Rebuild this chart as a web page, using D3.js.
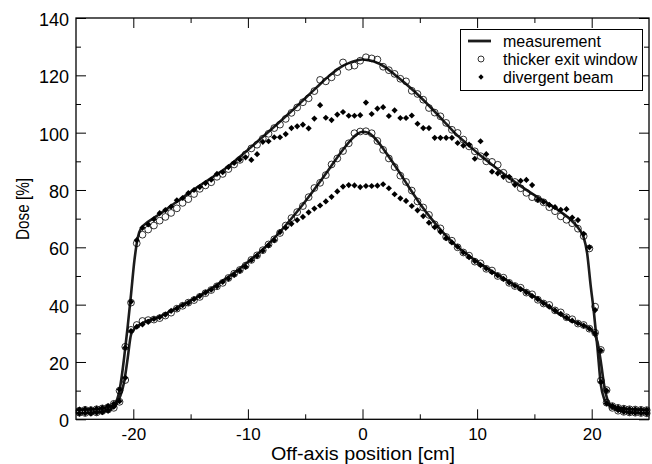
<!DOCTYPE html>
<html>
<head>
<meta charset="utf-8">
<script src="https://cdn.jsdelivr.net/npm/d3@7"></script>
<style>
  html, body { margin: 0; padding: 0; background: #fff; }
  svg { display: block; }
  text { font-family: "Liberation Sans", Arial, Helvetica, sans-serif; fill: #000; }
</style>
</head>
<body>
<svg id="chart" width="652" height="464"></svg>
<script>
// ---------------- DATA ----------------
const xMajorTicks = [-20, -10, 0, 10, 20];
const xMinorTicks = [-15, -5, 5, 15];
const yMajorTicks = [0, 20, 40, 60, 80, 100, 120, 140];
const yMinorTicks = [10, 30, 50, 70, 90, 110, 130];

const seriesNames = ["measurement", "thicker exit window", "divergent beam"];

// measurement curves (x in cm)
const measX = [-25,-24,-23,-22.5,-22,-21.7,-21.4,-21.1,-20.8,-20.5,-20.2,-19.9,-19.6,-19.3,
  -19,-18,-17,-16,-15,-14,-13,-12,-11,-10,-9,-8,-7,-6,-5,-4,-3,-2,-1,
  -0.5,0,0.5,
  1,2,3,4,5,6,7,8,9,10,11,12,13,14,15,16,17,18,19,
  19.3,19.6,19.9,20.2,20.5,20.8,21.1,21.4,21.7,
  22,22.5,23,24,25];
const measUpper = [3.3,3.4,3.6,3.9,4.4,5.1,7.0,12.5,21.5,32.0,43.5,55.5,63.5,66.8,
  68.0,70.8,73.6,76.5,79.4,82.1,84.7,87.4,90.6,94.0,97.5,101.0,104.6,108.2,112.0,115.8,119.5,122.6,124.6,
  125.2,125.5,125.3,
  124.8,122.8,119.6,116.3,112.6,108.6,104.4,100.1,96.5,93.0,89.8,86.6,83.6,80.8,78.2,75.8,73.2,70.2,65.8,
  63.5,58.0,47.0,37.0,25.0,12.0,7.0,5.2,4.5,
  4.1,3.8,3.6,3.4,3.3];
const measLower = [2.2,2.3,2.6,3.0,3.5,4.2,5.8,8.5,13.0,21.0,29.5,31.6,32.6,33.3,
  34.0,35.3,37.2,39.3,41.4,43.6,46.1,48.9,51.7,54.9,58.2,62.0,66.3,71.0,76.0,81.3,86.8,92.5,97.5,
  99.4,100.3,100.0,
  98.4,93.3,87.5,81.3,75.3,70.0,65.3,61.2,57.9,55.0,52.4,49.9,47.5,45.2,42.8,40.1,37.2,34.8,33.2,
  32.7,32.2,31.5,30.0,27.0,20.0,11.5,6.5,4.6,
  3.6,3.0,2.6,2.3,2.2];

// simulated points (x in cm)
const pointX = [
  -24.7,-24.2,-23.7,-23.2,-22.7,-22.2,-21.7,-21.2,-20.7,-20.2,
  -19.7,-19.2,-18.7,-18.2,-17.7,-17.2,-16.7,-16.2,-15.7,-15.2,
  -14.7,-14.2,-13.7,-13.2,-12.7,-12.2,-11.7,-11.2,-10.7,-10.2,
  -9.7,-9.2,-8.7,-8.2,-7.7,-7.2,-6.7,-6.2,-5.7,-5.2,
  -4.7,-4.2,-3.7,-3.2,-2.7,-2.2,-1.7,-1.2,-0.7,-0.2,
  0.3,0.8,1.3,1.8,2.3,2.8,3.3,3.8,4.3,4.8,
  5.3,5.8,6.3,6.8,7.3,7.8,8.3,8.8,9.3,9.8,
  10.3,10.8,11.3,11.8,12.3,12.8,13.3,13.8,14.3,14.8,
  15.3,15.8,16.3,16.8,17.3,17.8,18.3,18.8,19.3,19.8,
  20.3,20.8,21.3,21.8,22.3,22.8,23.3,23.8,24.3,24.8];

const exitUpper = [
  3.0,3.3,3.2,3.5,3.8,4.2,5.4,10.0,25.3,40.7,
  61.4,64.4,66.2,67.6,69.3,70.6,72.0,73.6,75.5,76.8,
  78.6,80.4,81.6,82.7,84.6,85.6,87.3,88.9,90.5,92.4,
  94.5,95.8,97.9,99.6,101.6,102.8,104.8,106.9,108.8,110.6,
  112.0,114.5,118.4,117.9,119.3,121.1,124.5,123.0,123.4,125.1,
  126.3,125.9,125.5,123.0,121.8,120.5,118.8,117.9,114.6,113.5,
  111.5,108.6,107.0,105.7,103.4,101.0,99.9,97.6,95.2,93.5,
  91.8,90.0,89.8,88.8,86.0,83.8,82.8,80.6,79.0,77.5,
  76.9,75.7,74.0,72.6,70.8,69.6,68.4,66.5,63.9,59.6,
  39.3,13.5,5.8,4.6,4.0,3.7,3.5,3.4,3.3,3.2];
const exitLower = [
  2.3,2.2,2.5,2.4,2.9,3.4,4.0,6.1,13.7,31.2,
  32.9,34.3,34.6,34.8,35.3,36.2,37.2,38.6,39.6,40.7,
  41.6,42.7,44.0,45.1,46.4,47.6,49.3,50.8,52.1,53.6,
  55.6,57.2,59.0,61.0,62.8,65.0,67.6,70.2,72.3,74.4,
  77.5,80.7,82.5,85.2,88.9,91.0,93.6,96.3,99.8,100.4,
  100.5,99.8,97.1,94.0,91.0,88.0,85.0,82.8,79.8,76.0,
  73.9,71.3,68.0,66.6,63.6,62.3,60.0,58.2,57.1,55.0,
  54.4,52.5,51.9,50.0,49.4,47.6,46.5,45.9,44.2,43.6,
  41.7,40.4,39.9,38.0,37.3,35.6,34.9,33.4,32.9,31.6,
  30.2,24.2,10.2,4.0,3.0,2.6,2.4,2.3,2.2,2.1];
const divergentUpper = [
  3.4,3.6,3.5,3.7,4.0,4.6,5.4,10.4,25.0,41.0,
  62.5,66.8,68.0,69.8,71.9,73.0,74.2,76.4,77.2,78.9,
  80.0,81.0,82.4,83.6,85.6,86.2,88.0,89.4,90.6,91.4,
  90.5,92.5,96.8,97.0,98.4,98.4,99.5,101.6,102.2,102.8,
  101.5,104.9,109.6,105.2,104.4,106.3,107.2,105.9,105.9,106.1,
  110.5,106.5,108.4,108.9,105.8,107.8,105.1,105.1,106.0,103.1,
  101.6,101.6,98.2,98.2,98.2,98.2,96.4,95.5,95.8,90.9,
  97.0,92.5,86.4,85.8,84.6,84.6,81.8,83.2,83.5,81.7,
  76.5,75.8,74.8,74.0,73.1,73.3,70.4,69.5,64.7,60.0,
  38.1,13.0,5.5,4.7,4.1,3.8,3.6,3.5,3.4,3.3];
const divergentLower = [
  2.0,2.1,2.0,2.3,2.5,3.0,4.4,6.3,14.5,30.8,
  32.3,33.1,34.0,35.0,35.6,36.5,37.8,38.6,39.8,40.6,
  41.9,43.0,44.2,45.2,46.4,47.9,49.1,50.4,51.8,53.2,
  55.5,57.0,58.8,60.7,62.5,65.3,66.8,68.2,69.5,70.6,
  72.2,73.5,74.6,76.0,77.6,79.5,81.2,81.7,81.6,81.0,
  81.4,81.4,81.5,82.0,80.6,78.5,77.1,76.2,74.4,72.9,
  70.9,68.6,67.0,65.4,63.2,61.7,60.2,58.2,56.6,55.2,
  53.8,52.6,51.3,50.2,49.0,47.7,46.6,45.4,44.3,43.0,
  41.9,40.5,39.3,38.0,36.8,35.5,34.4,33.5,32.7,31.6,
  30.0,24.0,10.0,4.4,3.2,2.6,2.3,2.2,2.1,2.0];

// ---------------- CHART ----------------
const plot = { left: 76, right: 649, top: 18, bottom: 419.3 };
const svg = d3.select("#chart");

const x = d3.scaleLinear().domain([-25, 25]).range([plot.left, plot.right]);
const y = d3.scaleLinear().domain([0, 140]).range([plot.bottom, plot.top]);

const TICK_FONT = 18;

function styleAxis(g) {
  g.attr("font-family", null).attr("font-size", null);
  g.select(".domain").remove();
  g.selectAll(".tick line").attr("stroke", "#000").attr("stroke-width", 1);
}

// minor/major ticks, all inward, on all four sides
svg.append("g").attr("transform", `translate(0,${plot.bottom})`)
  .call(d3.axisBottom(x).tickValues(xMajorTicks).tickSize(-10).tickPadding(8.6).tickFormat(d => String(d)))
  .call(styleAxis)
  .call(g => g.selectAll("text").style("font-size", "17px"));
svg.append("g").attr("transform", `translate(0,${plot.bottom})`)
  .call(d3.axisBottom(x).tickValues(xMinorTicks).tickSize(-5).tickFormat(""))
  .call(styleAxis);
svg.append("g").attr("transform", `translate(0,${plot.top})`)
  .call(d3.axisTop(x).tickValues(xMajorTicks).tickSize(-10).tickFormat(""))
  .call(styleAxis);
svg.append("g").attr("transform", `translate(0,${plot.top})`)
  .call(d3.axisTop(x).tickValues(xMinorTicks).tickSize(-5).tickFormat(""))
  .call(styleAxis);

svg.append("g").attr("transform", `translate(${plot.left},0)`)
  .call(d3.axisLeft(y).tickValues(yMajorTicks).tickSize(-10).tickPadding(7).tickFormat(d => String(d)))
  .call(styleAxis)
  .call(g => g.selectAll("text").style("font-size", TICK_FONT + "px").attr("dy", "0.42em"));
svg.append("g").attr("transform", `translate(${plot.left},0)`)
  .call(d3.axisLeft(y).tickValues(yMinorTicks).tickSize(-5).tickFormat(""))
  .call(styleAxis);
svg.append("g").attr("transform", `translate(${plot.right},0)`)
  .call(d3.axisRight(y).tickValues(yMajorTicks).tickSize(-10).tickFormat(""))
  .call(styleAxis);
svg.append("g").attr("transform", `translate(${plot.right},0)`)
  .call(d3.axisRight(y).tickValues(yMinorTicks).tickSize(-5).tickFormat(""))
  .call(styleAxis);

// data layer
const dataG = svg.append("g");
const line = d3.line().x(d => x(d[0])).y(d => y(d[1])).curve(d3.curveMonotoneX);
[measUpper, measLower].forEach(vals => {
  dataG.append("path")
    .datum(measX.map((xv, i) => [xv, vals[i]]))
    .attr("d", line)
    .attr("fill", "none")
    .attr("stroke", "#1c1c1c")
    .attr("stroke-width", 2.6)
    .attr("stroke-linejoin", "round");
});

const CIRCLE_R = 3.4;
[exitUpper, exitLower].forEach(vals => {
  dataG.append("g").selectAll("circle")
    .data(pointX.map((xv, i) => [xv, vals[i]]))
    .join("circle")
    .attr("cx", d => x(d[0]))
    .attr("cy", d => y(d[1]))
    .attr("r", CIRCLE_R)
    .attr("fill", "none")
    .attr("stroke", "#000")
    .attr("stroke-width", 0.8);
});

const diamond = d3.symbol().type(d3.symbolSquare).size(19);
[divergentUpper, divergentLower].forEach(vals => {
  dataG.append("g").selectAll("path")
    .data(pointX.map((xv, i) => [xv, vals[i]]))
    .join("path")
    .attr("d", diamond)
    .attr("transform", d => `translate(${x(d[0])},${y(d[1])}) rotate(45)`)
    .attr("fill", "#000");
});

// frame
svg.append("rect")
  .attr("x", plot.left).attr("y", plot.top)
  .attr("width", plot.right - plot.left).attr("height", plot.bottom - plot.top)
  .attr("fill", "none").attr("stroke", "#000").attr("stroke-width", 1.3);

// axis titles
svg.append("text")
  .attr("x", (plot.left + plot.right) / 2 + 0.5)
  .attr("y", 459.8)
  .attr("text-anchor", "middle")
  .attr("textLength", 184)
  .attr("lengthAdjust", "spacingAndGlyphs")
  .style("font-size", "18px")
  .text("Off-axis position [cm]");
svg.append("text")
  .attr("transform", `translate(29,209) rotate(-90)`)
  .attr("text-anchor", "middle")
  .attr("textLength", 62)
  .attr("lengthAdjust", "spacingAndGlyphs")
  .style("font-size", "19px")
  .text("Dose [%]");

// legend
const lg = svg.append("g");
lg.append("rect")
  .attr("x", 460.5).attr("y", 29.5).attr("width", 182).attr("height", 61)
  .attr("fill", "#fff").attr("stroke", "#000").attr("stroke-width", 1);
const rowY = [41, 59, 77];
lg.append("line").attr("x1", 468).attr("x2", 491).attr("y1", rowY[0]).attr("y2", rowY[0])
  .attr("stroke", "#1c1c1c").attr("stroke-width", 2.8);
lg.append("circle").attr("cx", 481).attr("cy", rowY[1]).attr("r", 3)
  .attr("fill", "none").attr("stroke", "#000").attr("stroke-width", 0.8);
lg.append("path").attr("d", d3.symbol().type(d3.symbolSquare).size(14))
  .attr("transform", `translate(481,${rowY[2]}) rotate(45)`).attr("fill", "#000");
seriesNames.forEach((name, i) => {
  lg.append("text")
    .attr("x", 503).attr("y", rowY[i] + 5.8)
    .style("font-size", "16px")
    .text(name);
});
</script>
</body>
</html>
